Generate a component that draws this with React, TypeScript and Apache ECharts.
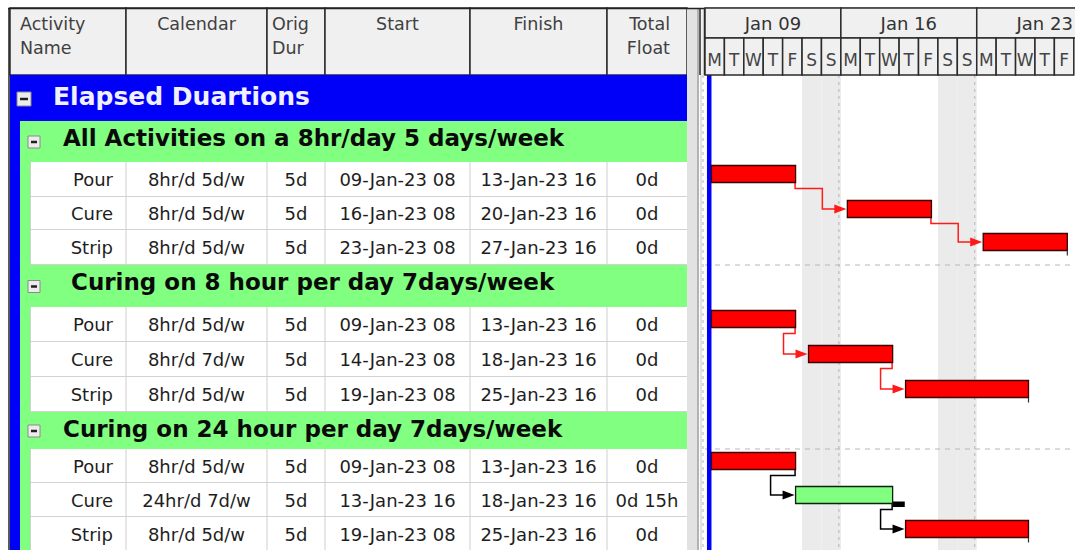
import React, { useEffect, useRef } from "react";
import * as echarts from "echarts";

// ---------------- data ----------------
const headerLabels = ["Activity\nName", "Calendar", "Orig\nDur", "Start", "Finish", "Total\nFloat"];
const bandTitle = "Elapsed Duartions";
const groupTitles = [
  "All Activities on a 8hr/day 5 days/week",
  " Curing on 8 hour per day 7days/week",
  "Curing on 24 hour per day 7days/week",
];
const activityGroup = [0, 0, 0, 1, 1, 1, 2, 2, 2];
const activityNames = ["Pour", "Cure", "Strip", "Pour", "Cure", "Strip", "Pour", "Cure", "Strip"];
const calendars = [
  "8hr/d 5d/w", "8hr/d 5d/w", "8hr/d 5d/w",
  "8hr/d 5d/w", "8hr/d 7d/w", "8hr/d 5d/w",
  "8hr/d 5d/w", "24hr/d 7d/w", "8hr/d 5d/w",
];
const origDurations = ["5d", "5d", "5d", "5d", "5d", "5d", "5d", "5d", "5d"];
const startLabels = [
  "09-Jan-23 08", "16-Jan-23 08", "23-Jan-23 08",
  "09-Jan-23 08", "14-Jan-23 08", "19-Jan-23 08",
  "09-Jan-23 08", "13-Jan-23 16", "19-Jan-23 08",
];
const finishLabels = [
  "13-Jan-23 16", "20-Jan-23 16", "27-Jan-23 16",
  "13-Jan-23 16", "18-Jan-23 16", "25-Jan-23 16",
  "13-Jan-23 16", "18-Jan-23 16", "25-Jan-23 16",
];
const totalFloats = ["0d", "0d", "0d", "0d", "0d", "0d", "0d", "0d 15h", "0d"];
const startTimes = [
  "2023-01-09 08:00", "2023-01-16 08:00", "2023-01-23 08:00",
  "2023-01-09 08:00", "2023-01-14 08:00", "2023-01-19 08:00",
  "2023-01-09 08:00", "2023-01-13 16:00", "2023-01-19 08:00",
];
const finishTimes = [
  "2023-01-13 16:00", "2023-01-20 16:00", "2023-01-27 16:00",
  "2023-01-13 16:00", "2023-01-18 16:00", "2023-01-25 16:00",
  "2023-01-13 16:00", "2023-01-18 16:00", "2023-01-25 16:00",
];
const critical = [true, true, true, true, true, true, true, false, true];
const floatFinishTimes: (string | null)[] = [null, null, null, null, null, null, null, "2023-01-19 07:00", null];
const links = [[0, 1], [1, 2], [3, 4], [4, 5], [6, 7], [7, 8]];
const linkCritical = [true, true, true, true, false, false];
const weekStarts = ["2023-01-09", "2023-01-16", "2023-01-23"];
const weekLabels = ["Jan 09", "Jan 16", "Jan 23"];
const days = [
  "2023-01-09", "2023-01-10", "2023-01-11", "2023-01-12", "2023-01-13", "2023-01-14", "2023-01-15",
  "2023-01-16", "2023-01-17", "2023-01-18", "2023-01-19", "2023-01-20", "2023-01-21", "2023-01-22",
  "2023-01-23", "2023-01-24", "2023-01-25", "2023-01-26", "2023-01-27",
];
const dayLetters = ["M", "T", "W", "T", "F", "S", "S", "M", "T", "W", "T", "F", "S", "S", "M", "T", "W", "T", "F"];
const weekendDays = ["2023-01-14", "2023-01-15", "2023-01-21", "2023-01-22"];
const dataDate = "2023-01-09 08:00";
const timelineStart = "2023-01-09 00:00";
const timelineEnd = "2023-01-28 01:30";

// ---------------- layout ----------------
const FONT = '"DejaVu Sans", Verdana, sans-serif';
const HEADER_TOP = 8;
const HEADER_MID = 38;
const BODY_TOP = 75;
const PAGE_H = 550;
const COLS = [10, 126, 267, 325, 470, 607, 687];
const GANTT_LEFT = 705;
const GANTT_W = 370;
const rowHeights = [46, 41, 35, 33, 35, 42, 35, 35, 35, 37, 34, 34, 34];
const BAR_OFFSET = 3.5;
const BAR_H = 17;
const SIGHT_EVERY = 5;

const HOUR = 3600000;
const DAY = 24 * HOUR;
function ts(s: string): number {
  const [d, t = "00:00"] = s.split(" ");
  const [y, m, dd] = d.split("-").map(Number);
  const [h, mi] = t.split(":").map(Number);
  return new Date(y, m - 1, dd, h, mi).getTime();
}

// row indices
const groupRows: number[] = [];
const actRows: number[] = [];
(() => {
  let r = 1;
  groupTitles.forEach((_, g) => {
    groupRows[g] = r++;
    activityGroup.forEach((ag, i) => {
      if (ag === g) actRows[i] = r++;
    });
  });
})();
const rowTops: number[] = [];
(() => {
  let acc = 0;
  rowHeights.forEach((h, i) => {
    rowTops[i] = acc;
    acc += h;
  });
})();
const BODY_H = PAGE_H - BODY_TOP;

function minusBox(x: number, y: number, s: number): any[] {
  return [
    { type: "rect", shape: { x, y, width: s, height: s }, style: { fill: "#ececec", stroke: "#8a8a8a", lineWidth: 1 } },
    { type: "line", shape: { x1: x + 3, y1: y + s / 2, x2: x + s - 3, y2: y + s / 2 }, style: { stroke: "#202020", lineWidth: 2.5 } },
  ];
}

function buildTable(): any[] {
  const els: any[] = [];
  // header cells
  const headerAlign = ["left", "center", "left", "center", "center", "right"];
  const headerX = [20, 196.5, 272, 397.5, 538.5, 670];
  headerLabels.forEach((lab, c) => {
    const x0 = COLS[c];
    const x1 = COLS[c + 1];
    els.push({
      type: "rect",
      shape: { x: x0, y: HEADER_TOP, width: x1 - x0, height: BODY_TOP - HEADER_TOP },
      style: { fill: "#f0f0f0", stroke: "#2b2b2b", lineWidth: 1.5 },
    });
    lab.split("\n").forEach((ln, li) => {
      els.push({
        type: "text",
        style: {
          text: ln, x: headerX[c], y: 24 + li * 24, align: headerAlign[c], verticalAlign: "middle",
          fontSize: 17.5, fontFamily: FONT, fill: "#404040",
        },
      });
    });
  });
  // splitter + gantt header background
  els.push({ type: "rect", shape: { x: 687, y: HEADER_TOP, width: 10, height: PAGE_H - HEADER_TOP }, style: { fill: "#e2e2e2" } });
  els.push({ type: "line", shape: { x1: 698, y1: HEADER_TOP, x2: 698, y2: PAGE_H }, style: { stroke: "#9a9a9a", lineWidth: 1.5 } });
  els.push({ type: "line", shape: { x1: 701, y1: BODY_TOP, x2: 701, y2: PAGE_H }, style: { stroke: "#c4c4c4", lineWidth: 1 } });
  els.push({ type: "rect", shape: { x: 699, y: HEADER_TOP, width: 376, height: BODY_TOP - HEADER_TOP }, style: { fill: "#f0f0f0" } });
  els.push({ type: "line", shape: { x1: 700, y1: HEADER_TOP, x2: 700, y2: BODY_TOP }, style: { stroke: "#2b2b2b", lineWidth: 1.5 } });
  els.push({ type: "line", shape: { x1: 704.5, y1: HEADER_TOP, x2: 704.5, y2: BODY_TOP }, style: { stroke: "#2b2b2b", lineWidth: 1.5 } });
  // outer borders
  els.push({ type: "line", shape: { x1: 8, y1: 8.5, x2: 1075, y2: 8.5 }, style: { stroke: "#222", lineWidth: 1.5 } });
  els.push({ type: "line", shape: { x1: 9, y1: 8, x2: 9, y2: PAGE_H }, style: { stroke: "#222", lineWidth: 1.5 } });

  // band
  const bandTop = BODY_TOP + rowTops[0];
  els.push({ type: "rect", shape: { x: 10, y: bandTop, width: 677, height: rowHeights[0] }, style: { fill: "#0000f8" } });
  els.push({ type: "rect", shape: { x: 10, y: bandTop + rowHeights[0], width: 10, height: PAGE_H - bandTop - rowHeights[0] }, style: { fill: "#0000f8" } });
  els.push(...minusBox(17, bandTop + 17, 14));
  els.push({
    type: "text",
    style: { text: bandTitle, x: 53, y: bandTop + 21, align: "left", verticalAlign: "middle", fontSize: 25, fontWeight: "bold", fontFamily: FONT, fill: "#f0f0ff" },
  });

  // groups
  groupTitles.forEach((title, g) => {
    const r = groupRows[g];
    const top = BODY_TOP + rowTops[r];
    const h = rowHeights[r];
    els.push({ type: "rect", shape: { x: 20, y: top, width: 667, height: h }, style: { fill: "#80ff80" } });
    els.push(...minusBox(28, top + h / 2 - 5.5, 12));
    els.push({
      type: "text",
      style: { text: title, x: 63, y: top + 17, align: "left", verticalAlign: "middle", fontSize: 23, fontWeight: "bold", fontFamily: FONT, fill: "#0a0a0a" },
    });
  });

  // activity rows
  const cellX = [113, 196.5, 296, 397.5, 538.5, 647];
  const cellAlign = ["right", "center", "center", "center", "center", "center"];
  activityNames.forEach((name, i) => {
    const r = actRows[i];
    const top = BODY_TOP + rowTops[r];
    const h = rowHeights[r];
    els.push({ type: "rect", shape: { x: 20, y: top, width: 10, height: h }, style: { fill: "#80ff80" } });
    els.push({ type: "rect", shape: { x: 30, y: top, width: 657, height: h }, style: { fill: "#ffffff" } });
    els.push({ type: "line", shape: { x1: 30, y1: top + h - 0.5, x2: 687, y2: top + h - 0.5 }, style: { stroke: "#d2d2d2", lineWidth: 1 } });
    [30.5, ...COLS.slice(1, 6)].forEach((cx) => {
      els.push({ type: "line", shape: { x1: cx, y1: top, x2: cx, y2: top + h }, style: { stroke: "#cfcfcf", lineWidth: 1 } });
    });
    const vals = [name, calendars[i], origDurations[i], startLabels[i], finishLabels[i], totalFloats[i]];
    vals.forEach((v, c) => {
      els.push({
        type: "text",
        style: { text: v, x: cellX[c], y: top + h / 2, align: cellAlign[c], verticalAlign: "middle", fontSize: 18, fontFamily: FONT, fill: "#1e1e1e" },
      });
    });
  });
  return els;
}

function buildOption(): any {
  const T0 = ts(timelineStart);
  const T1 = ts(timelineEnd);
  const hasSucc = activityNames.map((_, i) => links.some((l) => l[0] === i));

  return {
    animation: false,
    backgroundColor: "#ffffff",
    grid: { left: GANTT_LEFT, top: BODY_TOP, width: GANTT_W, height: BODY_H, show: false },
    xAxis: { type: "time", min: T0, max: T1, show: false },
    yAxis: { type: "value", inverse: true, min: 0, max: BODY_H, show: false },
    graphic: { elements: buildTable() },
    series: [
      {
        name: "weekends",
        type: "custom",
        z: 1,
        silent: true,
        data: weekendDays.map((d) => [ts(d), ts(d) + DAY, 0]),
        encode: { x: [0, 1], y: 2 },
        renderItem: (params: any, api: any) => {
          const cs = params.coordSys;
          const x0 = api.coord([api.value(0), 0])[0];
          const x1 = api.coord([api.value(1), 0])[0];
          return { type: "rect", shape: { x: x0, y: cs.y, width: x1 - x0, height: cs.height }, style: { fill: "#ebebeb" } };
        },
      },
      {
        name: "week lines",
        type: "custom",
        z: 2,
        silent: true,
        clip: false,
        data: weekStarts.map((w) => [ts(w), 0]),
        encode: { x: 0, y: 1 },
        renderItem: (params: any, api: any) => {
          const cs = params.coordSys;
          const x = api.coord([api.value(0), 0])[0] - 2;
          return { type: "line", shape: { x1: x, y1: cs.y, x2: x, y2: cs.y + cs.height }, style: { stroke: "#bdbdbd", lineWidth: 1.2, lineDash: [3, 4] } };
        },
      },
      {
        name: "sight lines",
        type: "custom",
        z: 2,
        silent: true,
        data: rowTops.map((t, r) => [T0, t, r]).filter((d) => d[2] > 0 && d[2] % SIGHT_EVERY === 0),
        encode: { x: 0, y: 1 },
        renderItem: (params: any, api: any) => {
          const cs = params.coordSys;
          const y = api.coord([api.value(0), api.value(1)])[1];
          return { type: "line", shape: { x1: cs.x, y1: y, x2: cs.x + cs.width, y2: y }, style: { stroke: "#b8b8b8", lineWidth: 1.2, lineDash: [5, 5] } };
        },
      },
      {
        name: "data date",
        type: "custom",
        z: 3,
        silent: true,
        clip: false,
        data: [[ts(dataDate), 0]],
        encode: { x: 0, y: 1 },
        renderItem: (params: any, api: any) => {
          const cs = params.coordSys;
          const x = api.coord([api.value(0), 0])[0];
          return { type: "rect", shape: { x: x - 4.5, y: cs.y, width: 4.5, height: cs.height }, style: { fill: "#0000f8" } };
        },
      },
      {
        name: "relationships",
        type: "custom",
        z: 4,
        silent: true,
        clip: false,
        data: links.map(([p, s], k) => [ts(finishTimes[p]), ts(startTimes[s]), actRows[p], actRows[s], linkCritical[k] ? 1 : 0]),
        encode: { x: [0, 1], y: 2 },
        renderItem: (params: any, api: any) => {
          const pr = api.value(2);
          const sr = api.value(3);
          const color = api.value(4) ? "#ff1a1a" : "#000000";
          const pe = api.coord([api.value(0), rowTops[pr] + BAR_OFFSET + BAR_H]);
          const ss = api.coord([api.value(1), rowTops[sr] + BAR_OFFSET + BAR_H / 2]);
          const dropY = pe[1] + 6;
          const jx = ss[0] - 25;
          return {
            type: "group",
            children: [
              {
                type: "polyline",
                shape: { points: [[pe[0] - 0.5, pe[1]], [pe[0] - 0.5, dropY], [jx, dropY], [jx, ss[1]], [ss[0] - 8, ss[1]]] },
                style: { stroke: color, lineWidth: 1.5, fill: null },
              },
              {
                type: "polygon",
                shape: { points: [[ss[0] - 13, ss[1] - 4.5], [ss[0] - 1, ss[1]], [ss[0] - 13, ss[1] + 4.5]] },
                style: { fill: color },
              },
            ],
          };
        },
      },
      {
        name: "float",
        type: "custom",
        z: 5,
        silent: true,
        data: floatFinishTimes
          .map((f, i) => (f ? [ts(finishTimes[i]), ts(f), actRows[i]] : null))
          .filter((d) => d !== null),
        encode: { x: [0, 1], y: 2 },
        renderItem: (params: any, api: any) => {
          const r = api.value(2);
          const bottom = rowTops[r] + BAR_OFFSET + BAR_H;
          const p0 = api.coord([api.value(0), bottom - 2]);
          const p1 = api.coord([api.value(1), bottom + 3.5]);
          return { type: "rect", shape: { x: p0[0], y: p0[1], width: p1[0] - p0[0], height: p1[1] - p0[1] }, style: { fill: "#000000" } };
        },
      },
      {
        name: "activities",
        type: "custom",
        z: 6,
        silent: true,
        clip: false,
        data: activityNames.map((_, i) => [ts(startTimes[i]), ts(finishTimes[i]), actRows[i], critical[i] ? 1 : 0, hasSucc[i] ? 0 : 1]),
        encode: { x: [0, 1], y: 2 },
        renderItem: (params: any, api: any) => {
          const r = api.value(2);
          const top = rowTops[r] + BAR_OFFSET;
          const p0 = api.coord([api.value(0), top]);
          const p1 = api.coord([api.value(1), top + BAR_H]);
          const crit = api.value(3);
          const children: any[] = [
            {
              type: "rect",
              shape: { x: p0[0], y: p0[1], width: p1[0] - p0[0], height: p1[1] - p0[1] },
              style: { fill: crit ? "#ff0000" : "#80ff80", stroke: crit ? "#3c0000" : "#102010", lineWidth: 1.3 },
            },
          ];
          if (api.value(4)) {
            children.push({ type: "line", shape: { x1: p1[0], y1: p1[1], x2: p1[0], y2: p1[1] + 5 }, style: { stroke: "#333", lineWidth: 1.2 } });
          }
          return { type: "group", children };
        },
      },
      {
        name: "weeks header",
        type: "custom",
        z: 10,
        silent: true,
        clip: false,
        data: weekStarts.map((w, i) => [ts(w), ts(w) + 7 * DAY, i]),
        encode: { x: [0, 1] },
        renderItem: (params: any, api: any) => {
          const x0 = api.coord([api.value(0), 0])[0];
          const x1 = api.coord([api.value(1), 0])[0];
          return {
            type: "group",
            children: [
              { type: "rect", shape: { x: x0, y: HEADER_TOP, width: x1 - x0, height: HEADER_MID - HEADER_TOP }, style: { fill: "#f0f0f0", stroke: "#2b2b2b", lineWidth: 1.5 } },
              {
                type: "text",
                style: { text: weekLabels[api.value(2)], x: (x0 + x1) / 2, y: 23, align: "center", verticalAlign: "middle", fontSize: 18, fontFamily: FONT, fill: "#333" },
              },
            ],
          };
        },
      },
      {
        name: "days header",
        type: "custom",
        z: 10,
        silent: true,
        clip: false,
        data: days.map((d, i) => [ts(d), ts(d) + DAY, i]),
        encode: { x: [0, 1] },
        renderItem: (params: any, api: any) => {
          const x0 = api.coord([api.value(0), 0])[0];
          const x1 = api.coord([api.value(1), 0])[0];
          return {
            type: "group",
            children: [
              { type: "rect", shape: { x: x0, y: HEADER_MID, width: x1 - x0, height: BODY_TOP - HEADER_MID }, style: { fill: "#f0f0f0", stroke: "#2b2b2b", lineWidth: 1.5 } },
              {
                type: "text",
                style: { text: dayLetters[api.value(2)], x: (x0 + x1) / 2, y: 60, align: "center", verticalAlign: "middle", fontSize: 17, fontFamily: FONT, fill: "#444" },
              },
            ],
          };
        },
      },
    ],
  };
}

export default function App() {
  const ref = useRef<HTMLDivElement>(null);
  useEffect(() => {
    if (!ref.current) return;
    const chart = echarts.init(ref.current, undefined, { renderer: "svg" });
    chart.setOption(buildOption());
    return () => chart.dispose();
  }, []);
  return (
    <div
      ref={ref}
      style={{ position: "fixed", left: 0, top: 0, width: 1075, height: 550, background: "#ffffff" }}
    />
  );
}
